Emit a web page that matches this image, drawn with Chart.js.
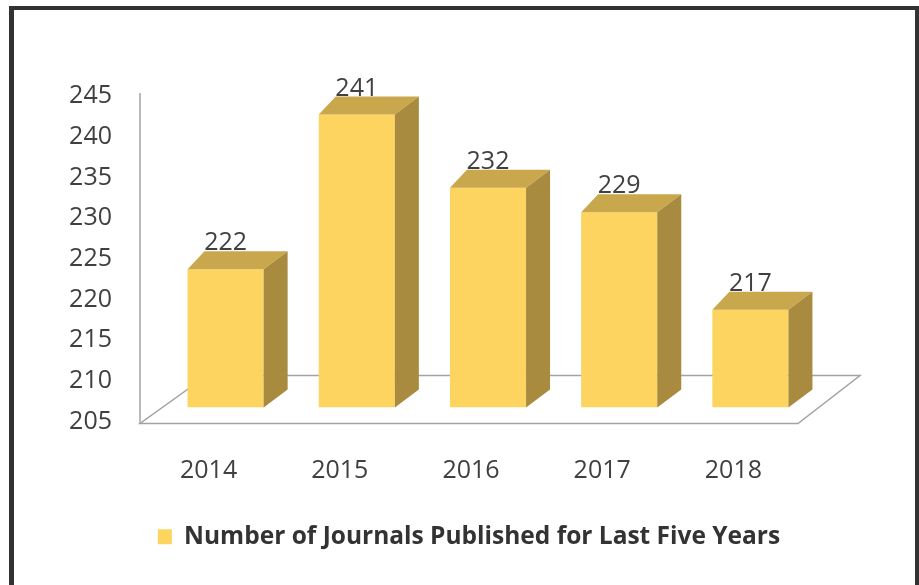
<!DOCTYPE html>
<html>
<head>
<meta charset="utf-8">
<script src="https://cdn.jsdelivr.net/npm/chart.js@4"></script>
<style>
    html, body { margin: 0; background: #fff; overflow: hidden; }
    #wrap { position: relative; width: 919px; height: 585px; overflow: hidden; }
    #myChart { display: block; }
    #frame {
        position: absolute; left: 9px; top: 6px; width: 901px; height: 620px;
        border: 4px solid #333; border-left-width: 5px; pointer-events: none;
    }
</style>
</head>
<body>
<div id="wrap">
    <canvas id="myChart" width="919" height="585"></canvas>
    <div id="frame"></div>
</div>

<script>
// data
let years = ['2014', '2015', '2016', '2017', '2018'];
let journals = [222, 241, 232, 229, 217];
let seriesName = 'Number of Journals Published for Last Five Years';
let yMin = 205;
let yMax = 245;
let yStep = 5;

const FRONT = '#fcd45f';
const TOP = '#c9a74c';
const SIDE = '#a88b3f';
const LINE = '#a3a3a3';
const TEXT = '#404040';

// 3d look: floor, top and side faces, value labels
const fake3d = {
    id: 'fake3d',
    afterLayout(chart) {
        // legend sits a bit right of the plot centre in the original
        chart.legend.left += 56;
        chart.legend.right += 56;
    },
    beforeDatasetsDraw(chart) {
        let ctx = chart.ctx;
        let a = chart.chartArea;
        ctx.save();
        ctx.strokeStyle = LINE;
        ctx.lineWidth = 1.5;
        // floor
        ctx.beginPath();
        ctx.moveTo(a.left - 20, a.bottom + 16);
        ctx.lineTo(a.right - 18, a.bottom + 16);
        ctx.lineTo(a.right + 44, a.bottom - 32);
        ctx.lineTo(a.left + 47, a.bottom - 32);
        ctx.closePath();
        ctx.stroke();
        // y axis line
        ctx.beginPath();
        ctx.moveTo(a.left - 20, a.top + 11);
        ctx.lineTo(a.left - 20, a.bottom + 16);
        ctx.stroke();
        ctx.restore();
    },
    afterDatasetsDraw(chart) {
        let ctx = chart.ctx;
        let meta = chart.getDatasetMeta(0);
        ctx.save();
        meta.data.forEach((bar, i) => {
            let x0 = bar.x - bar.width / 2;
            let x1 = bar.x + bar.width / 2;
            let y = bar.y;
            let b = bar.base;
            // top
            ctx.fillStyle = TOP;
            ctx.beginPath();
            ctx.moveTo(x0, y);
            ctx.lineTo(x1, y);
            ctx.lineTo(x1 + 24, y - 18);
            ctx.lineTo(x0 + 17, y - 18);
            ctx.closePath();
            ctx.fill();
            // side
            ctx.fillStyle = SIDE;
            ctx.beginPath();
            ctx.moveTo(x1, y);
            ctx.lineTo(x1 + 24, y - 18);
            ctx.lineTo(x1 + 24, b - 18);
            ctx.lineTo(x1, b);
            ctx.closePath();
            ctx.fill();
            // value
            ctx.fillStyle = TEXT;
            ctx.font = '25px "Open Sans"';
            ctx.textAlign = 'center';
            ctx.textBaseline = 'alphabetic';
            ctx.fillText(journals[i], bar.x, y - 19);
        });
        ctx.restore();
    }
};

let chart = new Chart(document.getElementById('myChart'), {
    type: 'bar',
    data: {
        labels: years,
        datasets: [{
            label: seriesName,
            data: journals,
            backgroundColor: FRONT,
            borderWidth: 0,
            categoryPercentage: 1,
            barPercentage: 0.58,
            base: yMin
        }]
    },
    options: {
        responsive: false,
        animation: false,
        layout: { padding: { top: 82, left: 10, right: 103, bottom: 26 } },
        scales: {
            x: {
                grid: { display: false, drawTicks: false },
                border: { display: false },
                ticks: { color: TEXT, font: { family: 'Open Sans', size: 25 }, padding: 48, labelOffset: -17 },
                afterFit(scale) { scale.height = 107; }
            },
            y: {
                min: yMin,
                max: yMax,
                grid: { display: false, drawTicks: false },
                border: { display: false },
                ticks: { stepSize: yStep, color: TEXT, font: { family: 'Open Sans', size: 25 }, padding: 48, labelOffset: 14 },
                afterFit(scale) { scale.width = 150; }
            }
        },
        plugins: {
            legend: {
                position: 'bottom',
                labels: {
                    color: '#333',
                    boxWidth: 14,
                    boxHeight: 15,
                    padding: 10,
                    font: { family: 'Open Sans', size: 24.5, weight: 'bold' }
                }
            },
            tooltip: { enabled: false }
        }
    },
    plugins: [fake3d]
});
</script>
</body>
</html>
